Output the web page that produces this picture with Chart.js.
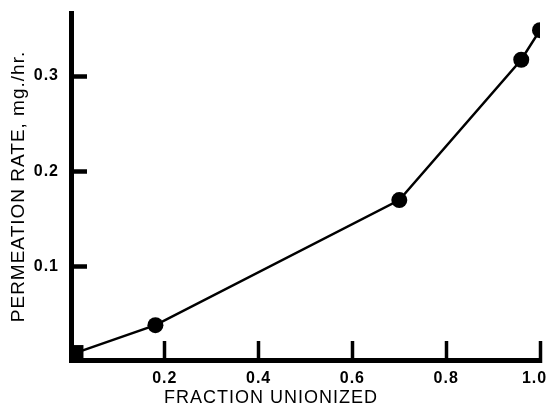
<!DOCTYPE html>
<html>
<head>
<meta charset="utf-8">
<script src="https://cdn.jsdelivr.net/npm/chart.js@4/dist/chart.umd.min.js"></script>
<style>
  html, body { margin: 0; padding: 0; background: #fff; }
  canvas { display: block; }
</style>
</head>
<body>
<canvas id="c" width="551" height="410"></canvas>
<script>
// Permeation rate against the fraction of drug present in un-ionized form
const fractionUnionized = [0.01, 0.18, 0.70, 0.96, 1.00];
const permeationRate    = [0.010, 0.039, 0.170, 0.317, 0.348];
const xTickValues = [0.2, 0.4, 0.6, 0.8, 1.0];
const yTickValues = [0.1, 0.2, 0.3];
const xTitle = 'FRACTION UNIONIZED';
const yTitle = 'PERMEATION RATE, mg./hr.';

const points = fractionUnionized.map((x, i) => ({ x, y: permeationRate[i] }));

const FONT = '"Liberation Sans", Arial, Helvetica, sans-serif';

// slightly open letter spacing for all text
const spacedText = {
  id: 'spacedText',
  beforeDraw(chart) { chart.ctx.letterSpacing = '1px'; }
};

new Chart(document.getElementById('c'), {
  type: 'line',
  data: {
    datasets: [{
      data: points,
      borderColor: '#000',
      borderWidth: 2.5,
      backgroundColor: '#000',
      pointBackgroundColor: '#000',
      pointBorderColor: '#000',
      pointBorderWidth: 0,
      pointRadius: ctx => ctx.dataIndex === 0 ? 11 : 8,
      pointStyle: ctx => ctx.dataIndex === 0 ? 'rect' : 'circle',
      tension: 0
    }]
  },
  options: {
    responsive: false,
    animation: false,
    devicePixelRatio: 1,
    layout: { padding: { top: 13, right: 9, left: 0, bottom: 0 } },
    plugins: {
      legend: { display: false },
      tooltip: { enabled: false },
      title: {
        display: true,
        position: 'bottom',
        text: xTitle,
        color: '#000',
        font: { family: FONT, size: 18, weight: 'normal', lineHeight: 1.2 },
        padding: { top: 0, bottom: 1 }
      }
    },
    scales: {
      x: {
        type: 'linear',
        min: 0,
        max: 1,
        afterBuildTicks: s => { s.ticks = xTickValues.map(value => ({ value })); },
        afterFit: s => { s.height = 410 - 360 - 22.6; s.paddingLeft = 0; s.paddingRight = 0; },
        grid: { drawOnChartArea: false, drawTicks: true, tickLength: -19, tickWidth: 3.5, tickColor: '#000' },
        border: { display: true, width: 5, color: '#000' },
        ticks: {
          padding: 28,
          color: '#000',
          autoSkip: false,
          maxRotation: 0,
          font: { family: FONT, size: 16, weight: 'bold', lineHeight: 1.2 },
          // the end label is pulled in from the frame edge
          callback: v => v === 1 ? v.toFixed(1) + '  ' : v.toFixed(1)
        }
      },
      y: {
        type: 'linear',
        min: 0.0025,
        max: 0.366,
        afterBuildTicks: s => { s.ticks = yTickValues.map(value => ({ value })); },
        afterFit: s => { s.width = 71; s.paddingTop = 0; s.paddingBottom = 0; },
        grid: { drawOnChartArea: false, drawTicks: true, tickLength: -16, tickWidth: 4.5, tickColor: '#000' },
        border: { display: true, width: 5, color: '#000' },
        ticks: {
          padding: 28,
          color: '#000',
          font: { family: FONT, size: 16, weight: 'bold', lineHeight: 1.2 },
          callback: v => v.toFixed(1)
        },
        title: {
          display: true,
          text: yTitle,
          color: '#000',
          font: { family: FONT, size: 19, weight: 'normal', lineHeight: 1.2 },
          padding: { top: 7, bottom: 0 }
        }
      }
    }
  },
  plugins: [spacedText]
});
</script>
</body>
</html>
